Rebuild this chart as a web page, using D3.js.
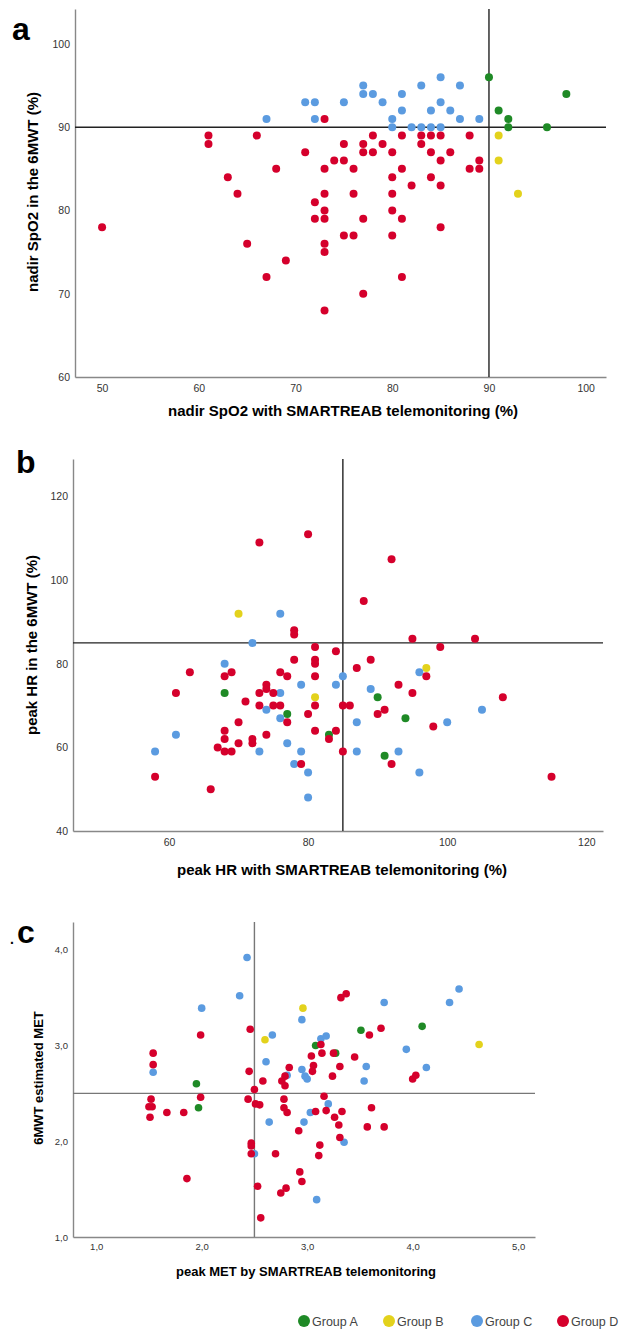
<!DOCTYPE html>
<html>
<head>
<meta charset="utf-8">
<script src="https://cdn.jsdelivr.net/npm/d3@7"></script>
<style>
  body { margin: 0; background: #fff; }
  svg text { font-family: "Liberation Sans", Arial, sans-serif; }
  .tick text { fill: #333; }
</style>
</head>
<body>
<div id="chart"></div>
<script>

// groups and colours
var groups = ["Group A", "Group B", "Group C", "Group D"];
var groupColors = ["#1f8a26", "#e3d21c", "#5b9be0", "#d5002c"];

// panel a: [SMARTREAB nadir SpO2, 6MWT nadir SpO2]
var spo2A = [[90,96],[98,94],[91,92],[92,91],[92,90],[96,90]];
var spo2B = [[91,89],[91,86],[93,82]];
var spo2C = [[67,91],[71,93],[72,93],[72,91],[75,93],[77,95],[77,94],[78,94],[79,93],[81,94],
  [81,92],[80,91],[80,90],[82,90],[83,90],[84,90],[85,90],[83,95],[85,96],[87,95],
  [84,92],[85,93],[86,92],[87,91],[89,91]];
var spo2D = [[61,89],[61,88],[66,89],[71,87],[68,85],[63,84],[64,82],[72,81],[72,79],[50,78],
  [65,76],[69,74],[67,72],[73,91],[78,89],[81,89],[83,89],[84,89],[85,89],[88,89],
  [75,88],[77,88],[79,88],[83,88],[77,87],[78,87],[80,87],[84,87],[86,87],
  [74,86],[75,86],[85,86],[89,86],[73,85],[76,85],[81,85],[88,85],[89,85],
  [80,84],[84,84],[82,83],[85,83],[73,82],[76,82],[80,82],[73,80],[80,80],
  [73,79],[77,79],[81,79],[85,78],[75,77],[76,77],[80,77],[73,76],[73,75],
  [81,72],[77,70],[73,68]];

// panel b: [SMARTREAB peak HR, 6MWT peak HR]
var hrA = [[68,73],[77,68],[90,72],[94,67],[83,63],[91,58]];
var hrB = [[70,92],[81,72],[97,79]];
var hrC = [[76,92],[72,85],[68,80],[76,73],[79,75],[74,69],[76,67],[77,61],[73,59],[79,59],
  [61,63],[58,59],[78,56],[80,54],[80,48],[96,78],[85,77],[84,75],[89,74],[105,69],
  [87,66],[100,66],[87,59],[93,59],[96,54]];
var hrD = [[73,109],[80,111],[92,105],[88,95],[78,88],[78,87],[95,86],[104,86],[81,84],[99,84],
  [84,83],[78,81],[81,81],[89,81],[81,80],[87,79],[63,78],[68,77],[69,78],[76,78],
  [77,77],[97,77],[81,77],[61,73],[71,71],[73,73],[74,75],[74,74],[75,73],[73,70],
  [75,70],[76,70],[77,66],[80,68],[70,66],[81,70],[81,64],[68,64],[68,62],[74,63],
  [72,62],[72,61],[70,61],[67,60],[68,59],[69,59],[58,53],[66,50],[79,56],[93,75],
  [95,73],[108,72],[85,70],[86,70],[90,68],[91,69],[98,65],[84,64],[83,62],[85,59],
  [92,56],[115,53]];

// panel c: [SMARTREAB peak MET, 6MWT estimated MET]
var metA = [[1.95,2.60],[1.97,2.35],[3.08,3.00],[3.27,2.92],[3.51,3.16],[4.09,3.20]];
var metB = [[2.60,3.06],[2.96,3.39],[4.63,3.01]];
var metC = [[2.43,3.92],[2.36,3.52],[2.00,3.39],[2.67,3.11],[2.95,3.27],[1.54,2.72],[2.61,2.83],
  [2.81,2.69],[2.95,2.75],[2.98,2.68],[3.00,2.65],[3.13,3.07],[3.18,3.10],[3.73,3.45],
  [4.44,3.59],[4.35,3.45],[3.94,2.96],[3.56,2.78],[4.13,2.77],[3.54,2.63],[2.64,2.20],
  [3.03,2.30],[2.97,2.20],[2.50,1.87],[3.09,1.39],[3.20,2.39],[3.35,1.99]];
var metD = [[1.99,3.11],[2.46,3.17],[1.54,2.92],[1.54,2.80],[2.45,2.73],[2.58,2.63],[2.50,2.54],
  [2.76,2.63],[2.79,2.68],[2.79,2.58],[2.83,2.77],[3.04,2.89],[3.06,2.79],[3.05,2.73],
  [3.32,3.50],[3.37,3.54],[3.59,3.11],[3.70,3.18],[3.13,3.01],[3.14,2.92],[3.25,2.92],
  [3.45,2.88],[3.31,2.78],[3.24,2.68],[4.03,2.69],[4.00,2.65],[3.16,2.47],
  [1.52,2.44],[1.50,2.36],[1.53,2.36],[1.51,2.25],[1.67,2.30],[1.83,2.30],[1.99,2.46],
  [1.86,1.61],[2.44,2.44],[2.51,2.39],[2.55,2.38],[2.47,1.98],[2.47,1.95],[2.47,1.87],
  [2.70,1.87],[2.78,2.44],[2.78,2.35],[2.81,2.30],[3.08,2.31],[2.92,2.11],[2.93,1.68],
  [2.95,1.58],[2.53,1.53],[2.80,1.51],[2.75,1.46],[2.56,1.20],[3.12,1.96],[3.11,1.85],
  [3.18,2.32],[3.33,2.31],[3.26,2.25],[3.61,2.35],[3.30,2.17],[3.57,2.15],[3.73,2.15],
  [3.31,2.04]];

// ticks and reference lines
var spo2XTicks = [50,60,70,80,90,100], spo2YTicks = [60,70,80,90,100];
var hrXTicks = [60,80,100,120], hrYTicks = [40,60,80,100,120];
var metXTicks = [1,2,3,4,5], metYTicks = [1,2,3,4];
var spo2Ref = [90, 90], hrRef = [85, 85], metRef = [2.5, 2.5];

var svg = d3.select('#chart').append('svg')
    .attr('width', 619)
    .attr('height', 1329);

function panel(o) {
  var x = d3.scaleLinear().domain(o.xDomain).range([o.left, o.right]);
  var y = d3.scaleLinear().domain(o.yDomain).range([o.bottom, o.top]);
  var g = svg.append('g');

  var xAxis = g.append('g')
      .attr('transform', 'translate(0,' + o.bottom + ')')
      .call(d3.axisBottom(x).tickValues(o.xTicks).tickSize(0).tickSizeOuter(0)
        .tickPadding(o.xPad).tickFormat(o.fmt));
  var yAxis = g.append('g')
      .attr('transform', 'translate(' + o.left + ',0)')
      .call(d3.axisLeft(y).tickValues(o.yTicks).tickSize(0).tickSizeOuter(0)
        .tickPadding(5).tickFormat(o.fmt));
  [xAxis, yAxis].forEach(function(a) {
    a.select('.domain').attr('stroke', o.axisColor).attr('stroke-width', 1.4);
    a.selectAll('.tick text').attr('font-size', o.tickFont).attr('font-family', null);
  });

  // reference lines
  g.append('line')
      .attr('x1', o.left).attr('x2', o.right)
      .attr('y1', y(o.ref[1])).attr('y2', y(o.ref[1]))
      .attr('stroke', o.refColor).attr('stroke-width', 1.4);
  g.append('line')
      .attr('x1', x(o.ref[0])).attr('x2', x(o.ref[0]))
      .attr('y1', o.top).attr('y2', o.bottom)
      .attr('stroke', o.refColor).attr('stroke-width', 1.4);

  o.series.forEach(function(s, i) {
    g.selectAll('.pt' + i)
        .data(s)
        .enter()
        .append('circle')
        .attr('cx', function(d) { return x(d[0]); })
        .attr('cy', function(d) { return y(d[1]); })
        .attr('r', o.r)
        .attr('fill', groupColors[i]);
  });

  g.append('text')
      .attr('x', o.xTitlePos[0]).attr('y', o.xTitlePos[1])
      .attr('text-anchor', 'middle')
      .attr('font-size', o.titleFont).attr('font-weight', 'bold')
      .text(o.xTitle);
  g.append('text')
      .attr('transform', 'translate(' + o.yTitlePos[0] + ',' + o.yTitlePos[1] + ') rotate(-90)')
      .attr('text-anchor', 'middle')
      .attr('font-size', o.titleFont).attr('font-weight', 'bold')
      .text(o.yTitle);
  g.append('text')
      .attr('x', o.labelPos[0]).attr('y', o.labelPos[1])
      .attr('font-size', 32).attr('font-weight', 'bold')
      .text(o.label);
}

var comma = function(d) { return d3.format('.1f')(d).replace('.', ','); };

panel({
  left: 75, right: 606, top: 9, bottom: 377,
  xDomain: [47.2, 102.1], yDomain: [60, 104.2],
  xTicks: spo2XTicks, yTicks: spo2YTicks, fmt: d3.format('d'),
  xPad: 8, tickFont: 10.5, axisColor: '#888', refColor: '#222',
  ref: spo2Ref, r: 4, titleFont: 15,
  series: [spo2A, spo2B, spo2C, spo2D],
  xTitle: 'nadir SpO2 with SMARTREAB telemonitoring (%)', xTitlePos: [343, 416],
  yTitle: 'nadir SpO2 in the 6MWT (%)', yTitlePos: [38, 192],
  label: 'a', labelPos: [12, 40]
});

panel({
  left: 73, right: 603, top: 459, bottom: 831,
  xDomain: [46.2, 122.4], yDomain: [40, 129],
  xTicks: hrXTicks, yTicks: hrYTicks, fmt: d3.format('d'),
  xPad: 8, tickFont: 10.5, axisColor: '#888', refColor: '#222',
  ref: hrRef, r: 4, titleFont: 15,
  series: [hrA, hrB, hrC, hrD],
  xTitle: 'peak HR with SMARTREAB telemonitoring (%)', xTitlePos: [342, 875],
  yTitle: 'peak HR in the 6MWT (%)', yTitlePos: [37, 645],
  label: 'b', labelPos: [16, 473]
});

panel({
  left: 73, right: 535, top: 922, bottom: 1237,
  xDomain: [0.78, 5.16], yDomain: [1.0, 4.29],
  xTicks: metXTicks, yTicks: metYTicks, fmt: comma,
  xPad: 6, tickFont: 9.5, axisColor: '#888', refColor: '#777',
  ref: metRef, r: 3.8, titleFont: 13,
  series: [metA, metB, metC, metD],
  xTitle: 'peak MET by SMARTREAB telemonitoring', xTitlePos: [306, 1276],
  yTitle: '6MWT estimated MET', yTitlePos: [43, 1078],
  label: 'c', labelPos: [17, 943]
});

svg.append('text').attr('x', 10).attr('y', 944).attr('font-size', 14).attr('font-weight', 'bold').text('.');

// legend
var legend = svg.append('g').attr('transform', 'translate(0,1321)');
var legendX = [304, 389, 477, 563];
groups.forEach(function(name, i) {
  legend.append('circle').attr('cx', legendX[i]).attr('cy', 0).attr('r', 6).attr('fill', groupColors[i]);
  legend.append('text').attr('x', legendX[i] + 8).attr('y', 4.5)
      .attr('font-size', 12.5).attr('fill', '#444').text(name);
});

</script>
</body>
</html>
